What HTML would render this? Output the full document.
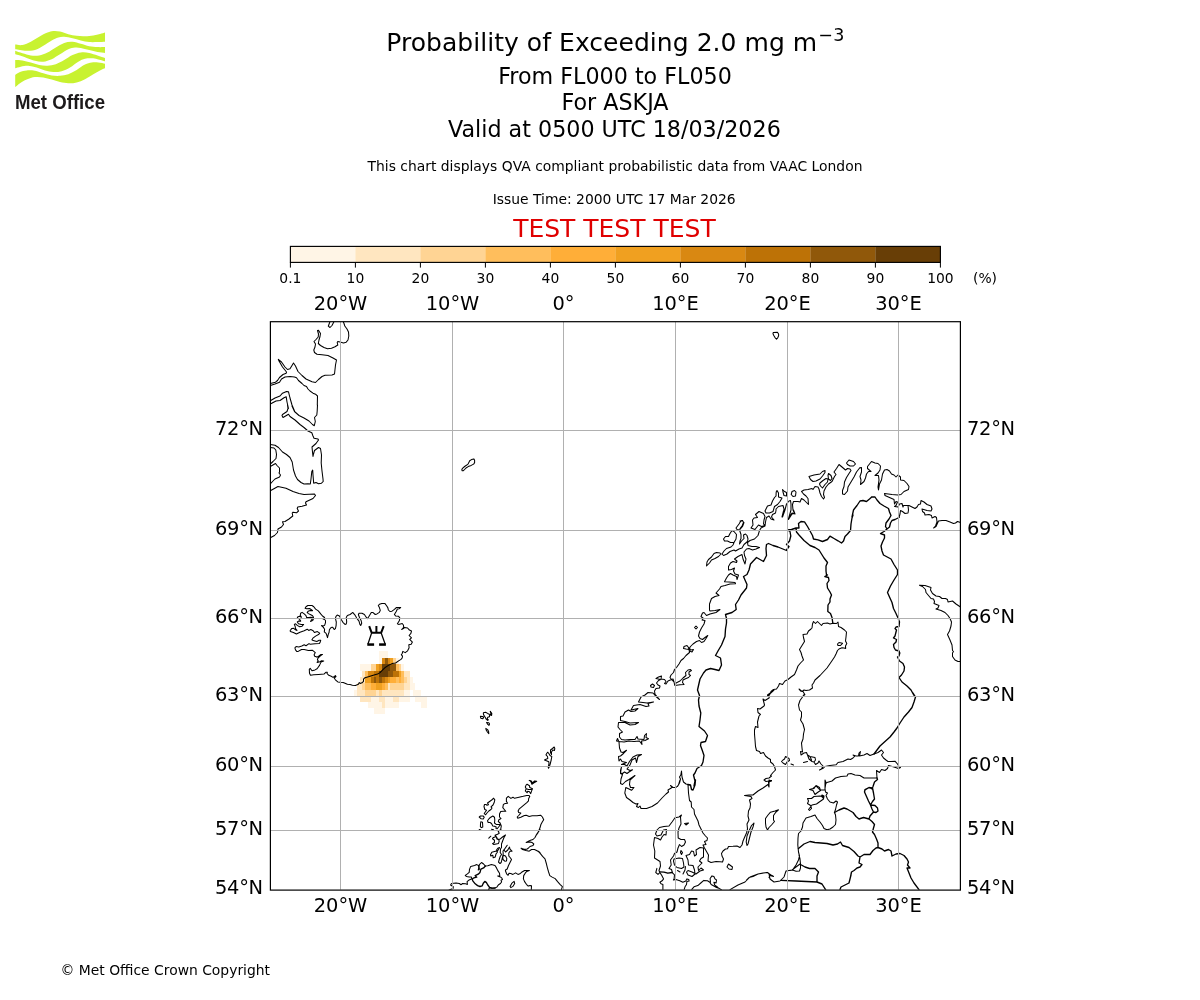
<!DOCTYPE html>
<html><head><meta charset="utf-8"><title>Probability of Exceeding 2.0 mg m-3</title>
<style>
html,body{margin:0;padding:0;background:#fff}
svg{display:block}
text{font-family:"DejaVu Sans","Liberation Sans",sans-serif;fill:#000}
.t10{font-size:13.89px} .t14{font-size:19.44px} .t16{font-size:22.22px} .t18{font-size:25px}
.mid{text-anchor:middle} .end{text-anchor:end}
</style></head><body>
<svg width="1200" height="1000" viewBox="0 0 1200 1000" style="will-change:transform">
<rect width="1200" height="1000" fill="#fff"/>
<!-- LOGO -->
<g id="logo"><path d="M15.2,44.6C16.4,44.7 19.9,45.5 22.5,45.0C25.1,44.5 28.1,43.1 30.8,41.7C33.6,40.3 36.4,38.2 39.2,36.7C41.9,35.1 45.1,33.4 47.5,32.5C49.9,31.6 51.2,31.2 53.3,31.0C55.4,30.8 57.5,31.0 60.0,31.5C62.5,32.0 65.6,33.4 68.3,34.2C71.1,34.9 73.9,35.5 76.7,35.8C79.4,36.2 82.2,36.3 85.0,36.2C87.8,36.2 90.8,35.8 93.3,35.4C95.8,35.0 98.1,34.5 100.0,34.0C101.9,33.5 104.2,32.8 105.0,32.5L105.0,41.7C103.8,41.7 100.1,42.0 97.5,42.1C94.9,42.2 91.9,42.4 89.2,42.1C86.4,41.8 83.6,41.0 80.8,40.4C78.1,39.8 75.3,39.0 72.5,38.3C69.7,37.7 66.5,36.8 64.2,36.7C61.8,36.5 60.4,36.9 58.3,37.5C56.2,38.1 54.2,39.0 51.7,40.4C49.2,41.8 46.1,44.2 43.3,45.8C40.6,47.4 37.8,49.2 35.0,50.0C32.2,50.8 29.2,50.8 26.7,50.8C24.2,50.8 21.9,50.3 20.0,50.0C18.1,49.7 16.0,49.3 15.2,49.2Z M15.2,50.8C16.4,51.2 19.9,52.6 22.5,53.3C25.1,54.1 28.1,55.1 30.8,55.4C33.6,55.8 36.4,55.9 39.2,55.4C41.9,54.9 44.7,53.8 47.5,52.5C50.3,51.2 53.1,49.1 55.8,47.5C58.6,45.9 61.4,43.9 64.2,42.9C66.9,41.9 69.7,41.5 72.5,41.7C75.3,41.8 78.1,43.0 80.8,43.8C83.6,44.5 86.4,45.7 89.2,46.2C91.9,46.8 94.9,46.9 97.5,47.1C100.1,47.2 103.8,47.1 105.0,47.1L105.0,52.9C103.8,52.8 100.1,52.6 97.5,52.1C94.9,51.6 91.9,50.7 89.2,50.0C86.4,49.3 83.2,48.3 80.8,47.9C78.5,47.5 77.1,47.3 75.0,47.5C72.9,47.7 70.8,48.1 68.3,49.2C65.8,50.3 62.8,52.5 60.0,54.2C57.2,55.8 54.4,57.9 51.7,59.2C48.9,60.4 46.1,61.4 43.3,61.7C40.6,61.9 37.8,61.5 35.0,60.8C32.2,60.2 29.4,58.9 26.7,57.9C23.9,56.9 20.3,55.6 18.3,55.0C16.4,54.4 15.7,54.3 15.2,54.2Z M15.2,60.0C16.4,60.1 19.9,60.0 22.5,60.4C25.1,60.8 28.1,61.7 30.8,62.5C33.6,63.3 36.4,64.4 39.2,65.0C41.9,65.6 44.7,66.0 47.5,65.8C50.3,65.7 53.1,65.1 55.8,64.2C58.6,63.2 61.4,61.5 64.2,60.0C66.9,58.5 69.7,56.2 72.5,55.0C75.3,53.8 78.1,52.8 80.8,52.5C83.6,52.2 86.4,52.4 89.2,52.9C91.9,53.4 94.9,54.6 97.5,55.4C100.1,56.2 103.8,57.5 105.0,57.9L105.0,61.2C103.8,60.9 99.7,59.7 97.5,59.2C95.3,58.7 93.8,58.4 91.7,58.3C89.6,58.3 87.2,58.2 85.0,58.8C82.8,59.3 80.8,60.2 78.3,61.7C75.8,63.1 72.8,65.9 70.0,67.5C67.2,69.1 64.4,70.5 61.7,71.2C58.9,72.0 56.1,72.2 53.3,72.1C50.6,71.9 47.8,71.2 45.0,70.4C42.2,69.7 39.4,68.3 36.7,67.5C33.9,66.7 31.0,66.0 28.3,65.8C25.7,65.7 23.0,66.2 20.8,66.7C18.6,67.1 16.1,68.1 15.2,68.3Z M15.2,75.0C16.0,74.5 18.1,72.8 20.0,72.1C21.9,71.3 24.2,70.6 26.7,70.4C29.2,70.2 32.2,70.3 35.0,70.8C37.8,71.3 40.6,72.6 43.3,73.3C46.1,74.1 48.9,75.0 51.7,75.4C54.4,75.8 57.2,76.0 60.0,75.8C62.8,75.6 65.6,75.1 68.3,74.2C71.1,73.2 73.9,71.6 76.7,70.0C79.4,68.4 82.5,65.8 85.0,64.6C87.5,63.3 89.4,62.8 91.7,62.5C93.9,62.2 96.1,62.3 98.3,62.5C100.6,62.7 103.9,63.5 105.0,63.8L105.0,68.3C104.2,68.7 101.9,69.4 100.0,70.4C98.1,71.4 95.8,72.7 93.3,74.2C90.8,75.6 87.8,77.8 85.0,79.2C82.2,80.6 79.4,81.8 76.7,82.5C73.9,83.2 71.1,83.4 68.3,83.3C65.6,83.3 62.8,82.7 60.0,82.1C57.2,81.5 54.4,80.3 51.7,79.6C48.9,78.8 46.1,77.9 43.3,77.5C40.6,77.1 37.8,76.7 35.0,77.1C32.2,77.4 29.2,78.5 26.7,79.6C24.2,80.6 21.9,82.1 20.0,83.3C18.1,84.6 16.0,86.5 15.2,87.1Z" fill="#C8F230"/>
<text x="15" y="108.9" textLength="90" lengthAdjust="spacingAndGlyphs" style="font-family:'Liberation Sans',sans-serif;font-weight:bold;font-size:20.4px;fill:#1d1a1b">Met Office</text></g>
<!-- titles -->
<text x="386.2" y="51" class="t18" textLength="431" lengthAdjust="spacing">Probability of Exceeding 2.0 mg m</text><text x="818.3" y="40.8" font-size="17.5px">−</text><text x="833.2" y="40.8" font-size="17.5px">3</text>
<text x="615" y="83.8" class="t16 mid">From FL000 to FL050</text>
<text x="615" y="110" class="t16 mid">For ASKJA</text>
<text x="614.4" y="136.7" class="t16 mid">Valid at 0500 UTC 18/03/2026</text>
<text x="615" y="171" class="t10 mid">This chart displays QVA compliant probabilistic data from VAAC London</text>
<text x="614.2" y="204.2" class="t10 mid">Issue Time: 2000 UTC 17 Mar 2026</text>
<text x="614.4" y="236.6" class="t18 mid" style="fill:#e00000">TEST TEST TEST</text>
<!-- colorbar -->
<rect x="290.4" y="246.4" width="65.2" height="15.999999999999972" fill="#FFF5E6"/><rect x="355.4" y="246.4" width="65.2" height="15.999999999999972" fill="#FFE6C0"/><rect x="420.4" y="246.4" width="65.2" height="15.999999999999972" fill="#FFD494"/><rect x="485.4" y="246.4" width="65.2" height="15.999999999999972" fill="#FFBE5C"/><rect x="550.4" y="246.4" width="65.2" height="15.999999999999972" fill="#FFAE38"/><rect x="615.4" y="246.4" width="65.2" height="15.999999999999972" fill="#F0A020"/><rect x="680.4" y="246.4" width="65.2" height="15.999999999999972" fill="#D98812"/><rect x="745.4" y="246.4" width="65.2" height="15.999999999999972" fill="#BD7206"/><rect x="810.4" y="246.4" width="65.2" height="15.999999999999972" fill="#90580A"/><rect x="875.4" y="246.4" width="65.2" height="15.999999999999972" fill="#683E06"/>
<rect x="290.4" y="246.4" width="650.0" height="15.999999999999972" fill="none" stroke="#000" stroke-width="1.15"/>
<path d="M290.4,262.4v5.2M355.4,262.4v5.2M420.4,262.4v5.2M485.4,262.4v5.2M550.4,262.4v5.2M615.4,262.4v5.2M680.4,262.4v5.2M745.4,262.4v5.2M810.4,262.4v5.2M875.4,262.4v5.2M940.4,262.4v5.2" stroke="#000" stroke-width="1" fill="none"/>
<!-- map -->
<clipPath id="clip"><rect x="270.4" y="321.7" width="690.0" height="568.0999999999999"/></clipPath>
<g clip-path="url(#clip)">
<g shape-rendering="crispEdges">
<rect x="379" y="651" width="9" height="7" fill="#FFF5E6"/>
<rect x="379" y="658" width="3" height="6" fill="#FFF5E6"/>
<rect x="382" y="658" width="3" height="6" fill="#D98812"/>
<rect x="385" y="658" width="3" height="6" fill="#90580A"/>
<rect x="388" y="658" width="2" height="6" fill="#D98812"/>
<rect x="390" y="658" width="3" height="6" fill="#F0A020"/>
<rect x="393" y="658" width="3" height="6" fill="#FFD494"/>
<rect x="396" y="658" width="3" height="6" fill="#FFF5E6"/>
<rect x="360" y="664" width="11" height="7" fill="#FFF5E6"/>
<rect x="371" y="664" width="5" height="7" fill="#FFD494"/>
<rect x="376" y="664" width="3" height="7" fill="#F0A020"/>
<rect x="379" y="664" width="3" height="7" fill="#D98812"/>
<rect x="382" y="664" width="8" height="7" fill="#683E06"/>
<rect x="390" y="664" width="6" height="7" fill="#90580A"/>
<rect x="396" y="664" width="3" height="7" fill="#FFBE5C"/>
<rect x="399" y="664" width="2" height="7" fill="#FFD494"/>
<rect x="401" y="664" width="3" height="7" fill="#FFF5E6"/>
<rect x="362" y="671" width="3" height="6" fill="#FFE6C0"/>
<rect x="365" y="671" width="3" height="6" fill="#FFBE5C"/>
<rect x="368" y="671" width="6" height="6" fill="#D98812"/>
<rect x="374" y="671" width="5" height="6" fill="#BD7206"/>
<rect x="379" y="671" width="9" height="6" fill="#683E06"/>
<rect x="388" y="671" width="5" height="6" fill="#90580A"/>
<rect x="393" y="671" width="6" height="6" fill="#BD7206"/>
<rect x="399" y="671" width="2" height="6" fill="#F0A020"/>
<rect x="401" y="671" width="3" height="6" fill="#FFBE5C"/>
<rect x="404" y="671" width="6" height="6" fill="#FFE6C0"/>
<rect x="360" y="677" width="5" height="6" fill="#FFE6C0"/>
<rect x="365" y="677" width="6" height="6" fill="#F0A020"/>
<rect x="371" y="677" width="3" height="6" fill="#BD7206"/>
<rect x="374" y="677" width="2" height="6" fill="#90580A"/>
<rect x="376" y="677" width="3" height="6" fill="#BD7206"/>
<rect x="379" y="677" width="3" height="6" fill="#90580A"/>
<rect x="382" y="677" width="3" height="6" fill="#BD7206"/>
<rect x="385" y="677" width="3" height="6" fill="#D98812"/>
<rect x="388" y="677" width="2" height="6" fill="#F0A020"/>
<rect x="390" y="677" width="6" height="6" fill="#FFAE38"/>
<rect x="396" y="677" width="3" height="6" fill="#FFBE5C"/>
<rect x="399" y="677" width="2" height="6" fill="#FFAE38"/>
<rect x="401" y="677" width="3" height="6" fill="#FFBE5C"/>
<rect x="404" y="677" width="3" height="6" fill="#FFD494"/>
<rect x="407" y="677" width="3" height="6" fill="#FFE6C0"/>
<rect x="410" y="677" width="3" height="6" fill="#FFF5E6"/>
<rect x="357" y="683" width="5" height="7" fill="#FFE6C0"/>
<rect x="362" y="683" width="3" height="7" fill="#FFD494"/>
<rect x="365" y="683" width="6" height="7" fill="#FFBE5C"/>
<rect x="371" y="683" width="5" height="7" fill="#FFAE38"/>
<rect x="376" y="683" width="6" height="7" fill="#F0A020"/>
<rect x="382" y="683" width="3" height="7" fill="#FFAE38"/>
<rect x="385" y="683" width="3" height="7" fill="#FFBE5C"/>
<rect x="388" y="683" width="2" height="7" fill="#FFE6C0"/>
<rect x="390" y="683" width="14" height="7" fill="#FFD494"/>
<rect x="404" y="683" width="6" height="7" fill="#FFE6C0"/>
<rect x="410" y="683" width="5" height="7" fill="#FFF5E6"/>
<rect x="354" y="690" width="3" height="6" fill="#FFF5E6"/>
<rect x="357" y="690" width="8" height="6" fill="#FFE6C0"/>
<rect x="365" y="690" width="11" height="6" fill="#FFD494"/>
<rect x="376" y="690" width="3" height="6" fill="#FFE6C0"/>
<rect x="379" y="690" width="3" height="6" fill="#FFD494"/>
<rect x="382" y="690" width="22" height="6" fill="#FFE6C0"/>
<rect x="404" y="690" width="6" height="6" fill="#FFF5E6"/>
<rect x="413" y="690" width="8" height="6" fill="#FFF5E6"/>
<rect x="360" y="696" width="11" height="6" fill="#FFE6C0"/>
<rect x="371" y="696" width="8" height="6" fill="#FFF5E6"/>
<rect x="379" y="696" width="6" height="6" fill="#FFE6C0"/>
<rect x="385" y="696" width="8" height="6" fill="#FFF5E6"/>
<rect x="393" y="696" width="6" height="6" fill="#FFE6C0"/>
<rect x="399" y="696" width="11" height="6" fill="#FFF5E6"/>
<rect x="415" y="696" width="12" height="6" fill="#FFF5E6"/>
<rect x="368" y="702" width="14" height="6" fill="#FFF5E6"/>
<rect x="382" y="702" width="3" height="6" fill="#FFE6C0"/>
<rect x="385" y="702" width="14" height="6" fill="#FFF5E6"/>
<rect x="421" y="702" width="6" height="6" fill="#FFF5E6"/>
<rect x="374" y="708" width="11" height="6" fill="#FFF5E6"/>
</g>
<path d="M343.2,321.5 344,323.5 344.8,326 347,329 348.5,332 348.8,336 348,340 346.2,342.2 343.5,343 340,342 337.8,341.5 337.2,342.5 337.8,345 335,346.8 331.5,348.2 327.5,348.8 324,347.5 320.5,345.5 318.3,343.5 319,340 320,336.5 320.5,333.5 318.5,330.2 317.5,330.5 318.5,334 318.2,337 316,339.5 314,341.5 315.5,344 315,347 313.8,350 314.5,352.5 317,354.3 322,354.8 328,355.5 333,358 336.5,360 335.5,365 334.5,374 332,375 325,375.3 322,376.5 318.5,379.5 315.5,382.5 312,381.8 306,379 302,375.5 298,371.5 295.5,366 293.5,363 292,365.5 290,368.8 287.5,369.5 285,367 281.5,362 278.3,359.3 279,361 282.5,367 286.5,372 286.2,373.2 283,374.5 279.5,377.5 277.5,380.5 275.5,382.2 270.3,383.5 M330,321.5 328.3,326.2 330,327.5 332,325.5 333.8,322 M270.3,385.5 275,384 279.5,382.2 281.5,379 285,377 290,376.5 294.5,377 296.5,377.8 298.5,380.5 302,383.5 304,385.5 306.5,386.5 308,389 310,391 313,393.2 315.5,394.2 317.5,396 317.3,405 317.5,405 317.2,411 316.8,415 314.5,417.5 315.3,421.5 314.3,425.7 312.5,424.5 309,421 304,418 299,415.5 294.5,411.5 292,406 294.5,411 292,405 290,398 288.5,391.8 286.5,391.5 282.5,393.2 280,396 275,398 270.3,400.8 M270.3,404 276,401 280,400.5 284,397.8 286.2,396.8 287,402 288.5,408.5 287.5,405 288,408.5 287,411.5 282.5,414.5 282,415.5 283,417.5 288.5,414.2 290,416.5 295,420 300,424.5 304,427.5 308,431 311.8,432.8 313,436 314,438.3 318,439 318.5,440 316,443.5 312,447 312.5,452 313,456.5 313.5,454 314.5,450.5 318.5,447.5 320.5,448.5 321.5,455 321.2,463 322,471 323,479 323.2,481.5 321.5,483.2 318.5,483.7 316,482.5 313.7,483.2 313,475 312.7,470 311.8,471.5 311,479 310.3,484 308,483.7 304,484 301,482.5 297.5,479.5 295.5,476 293.5,470 292.2,462 290,457.5 286.5,454.5 282.5,452 278.5,447.5 275,445.2 270.3,444.5 M270.3,447.5 274,448 275.8,450 276.5,454.5 276,458.5 273,461.5 270.3,464 M270.3,466.5 275.5,463.5 277,465.5 279.5,468 279.5,472 279,473 280.5,475 279.5,477 275,479 272.5,481.5 270.3,484 M270.3,490.8 278,486.5 286,488.2 293,491.5 299,493.5 304,494.5 314.5,494 315.5,495.5 315.5,495.5 313,498.5 306,501.8 305.5,503 306.5,505 302,506.2 297.8,507 297.2,508.5 298.5,511 296.5,512.8 293,512.2 292.2,513 292.8,516 289,519 285,521.5 282.5,521.8 283.5,524.5 281.5,527 278,529 277.5,532.5 274.5,535.5 270.3,537.8 M352.7,612.4 354.8,614.8 356.7,618.1 359,621.1 359.9,624.4 360.7,625.5 361.7,623.2 361.1,620.5 359.6,617.8 358.4,614.8 359,613.3 362,613.3 364.4,614.5 366.2,617.2 367.5,618.7 369.5,615.4 371.3,612.4 372.8,612.4 375.2,614.5 377,613.9 379.4,612.4 380.3,610.3 379.4,607.6 378.3,605.5 379.4,604.3 381.8,603.4 384.8,603.4 386.6,605.8 387.8,607.6 388.4,610 389.9,611.5 392,611.2 394.4,609.4 396.5,607.5 400.7,607.5 399.2,608.7 397.4,609.1 396.2,611.5 394.4,614.5 395.6,615.9 398.6,616.3 399.8,617.8 399.3,620.8 397.4,623.8 398.6,624.4 402.2,623.5 403.4,625 403.7,627.4 401.6,629.5 403.4,628.6 404.6,627.4 407.6,628 409.4,630.1 411.5,631 410.9,633.4 409.1,635.5 411.5,637.9 409.7,639.4 412.4,642.1 411.2,644.2 408.8,644.8 409.1,647.8 407.6,650.8 405.2,652.6 402.8,651.4 402.2,653.5 401.3,654.7 402.5,656.2 402.2,658 402.2,658 401,659.4 398.6,660.9 395.6,663 392,663.6 388.4,665.4 384.8,667.8 382.4,670.2 380,672.6 377.6,674.1 374,675 369.2,676.5 365,677.7 363.5,679.2 363.5,681.3 362,682.8 360.2,683.4 359.3,682.5 358.4,684.3 355.4,685.5 352.4,685.2 350,684.6 347.4,684.3 343.2,682.5 340.2,682.2 337.8,681.9 335.4,679.8 334.2,678 336,676.5 335.4,675.6 333,677.4 331.2,676.2 328.8,675.3 327,673.5 327.3,672.3 325.8,672.3 324,674.1 318.6,674.4 313.8,674.7 310.5,675.3 309.5,673.2 309.3,669.3 310.2,668.4 312,670.8 315,669.9 317.1,668.7 319.5,665.4 321,662.1 323.7,660.9 321.6,660.7 319.2,662.1 317.1,662.4 318.3,660.9 317.4,660 318,658 318,658 320.4,655.9 322.5,654.4 321,654.4 318.6,656.2 316.8,657.1 314.7,656.2 314.1,654.7 315.3,652.6 313.8,651.4 312.3,650.2 308.4,650.5 304.2,649.5 301.5,649.5 298.2,651.4 296.7,651.4 295.5,649.9 294.9,647.8 296.1,646.5 298.8,646.9 301.8,646 304.2,644.8 306,645.7 309,643.6 310.2,644.2 315,643.7 319.2,643.6 320.1,642.4 320.7,640.3 319.2,640.3 316.8,641.5 313.2,640.6 311.9,639.7 312.9,638.2 315.6,636.1 318.9,634.3 319.7,633.1 317.4,631.6 314.4,632.5 313.2,630.7 310.8,629.5 308.7,630.4 307.2,629.2 304.2,630.7 300,632.2 296.4,634 293.4,632.5 290.4,631.6 290.1,630.7 291.6,628.6 293.7,628.3 295.5,629.8 297,630.4 295.5,628.6 295.2,626.5 294.3,624.4 295.5,623.8 297.6,625.6 299.7,626.8 302.1,626.2 303.6,624.4 301.2,624.4 298.5,623.8 297.3,622 298.5,621.1 300.7,621.1 299.4,619 297.3,618.1 297.6,616.9 299.4,616.3 301.5,617.2 300.3,615.4 300.6,613.3 302.1,612.4 304.2,613.9 306,615.7 306.6,617.5 309,617.5 310.8,617.2 312.3,617.5 312.9,618.7 311.4,619.9 310.5,621.4 312,620.8 313.2,619.9 313.5,617.2 312.6,615.7 310.8,614.8 308.4,613.6 307.2,612.4 308.1,611.3 310.2,610.6 312.6,610.6 311.4,609.7 309.6,608.5 306.6,608.8 305.1,608.2 306,606.7 307.8,605.5 312,605.5 313.8,606.7 315.6,609.1 318.3,610.9 320.7,613.9 322.5,616 324.6,617.5 323.1,619 324.6,619.5 325.5,620.5 325.5,622.6 324.6,625.3 323.4,625.9 321.5,625.6 323.4,627.4 324.6,629.2 324.3,631.9 326.1,633.4 326.7,635.2 327.5,637.6 328.2,634.6 329.1,632.2 329.4,629.8 330.6,628 332.1,627.1 333.3,628 334.2,629.5 335.4,628.6 336.1,625.6 336.3,622 335.4,618.4 336,616.3 337.2,615.1 339,615.7 340.2,617.2 341.1,619.3 342.9,622.3 345,624.4 346.2,624.1 346.7,622 346.3,617.2 347.4,615.4 350.1,614.5 352.8,612.4Z M473.9,458.9 474.6,460.2 474.6,462.6 473.6,464.1 471.2,465.4 468.2,466.6 466.4,467.7 464.6,469.5 463.4,470.7 462.2,470.7 461.8,469.8 462.5,468.3 464.6,466.5 466.4,465.3 468.2,463.8 469.1,462 469.7,460.8 471.5,459.6Z M773.2,332.5 777.4,332.2 778.6,334 778.6,335.8 777.7,337.9 776.5,339.2 775,337.6 773.8,335.5 773,333.7Z M483.4,712.8 485.6,712.2 487.6,713.4 489.8,714.4 489.4,716.8 487.8,717.2 487.2,718.8 488.4,719.8 487.6,720.4 486.2,719.2 485.2,717.2 484,715.6 483.4,714Z M490.2,711.2 491.8,713.4 491.6,715.4 490.6,715 490.8,713.2Z M480.4,716.2 482.8,716.4 483.6,717.6 482.8,718.8 480.8,718.2Z M486.6,722.4 488.8,722.8 489.6,724 489,725.4 487.8,724.4Z M485.8,728.4 487.6,729.6 488.6,731.6 488.8,733.6 487.4,732 486.2,730Z M547.8,752.2 549,753.8 550,755.5 551.8,756.5 551.2,760 550.2,764 549.2,767 548.5,768.2 548.2,767 549,763.5 548.8,761.8 547,761 544.5,760 546,759.2 547.8,758.5 547.5,756.5 546,754.8 547,753Z M550.5,750 552.5,748.5 554.2,747 554.8,748.5 554.5,750.5 552.8,750 551.5,752 551.5,754.5 550.5,752.5Z M531.3,889.7 531.5,885.8 530,885.5 528.2,886.1 526.4,884.3 524.6,881.6 523.4,878.9 523.7,875.6 525.2,873.2 526.7,871.4 529.4,870.5 524.6,870.5 521.6,872.3 519.8,873.8 518,874.4 515.6,872.9 512.9,874.4 510.8,873.5 509,873.2 508.1,875.3 506.6,873.8 505.4,870.8 506,869.6 505.8,869.8 507.2,869 508.5,865.5 510,862.5 511.5,859.5 510.5,858 508.8,856 508.8,853 510,851.2 512,851.2 510,849.2 509.5,847 507.8,850 505.5,852 504,850 506,847 507.2,845.2 504.5,849.2 503,851 503.2,854 502.5,857 501.8,860 501.2,862.5 500,863.5 498.5,862.2 499.2,859.5 500.2,856.5 501.5,854.5 500.2,852.5 500.5,849 501.5,847.5 501.5,844 502.8,840.5 504,837.5 505.5,835 502.5,837 500,839.2 497.5,839 496.5,837 495,835.2 497.5,834.2 499.2,833.2 498.2,831.2 501,829.5 500.7,829.3 501.3,826 500.1,823 498.3,821.5 498.9,819.7 501,818.5 499.5,817 499.5,814 500.7,811.6 503.4,811.3 505.8,811.3 504.3,809.5 502.8,807.7 503.4,804.4 505.2,803.5 507.6,803.2 506.4,801.4 506.4,798.1 508.2,796.3 510.9,798.4 513,797.2 514.5,798.3 519,797.2 523.2,796.3 526.8,795.4 528.9,795.4 529.8,796.3 528.6,798.7 528.5,800.8 526.8,802.6 523.2,805.6 519,809.2 518.1,811 518.7,812.5 520.8,813.1 518.7,815.5 517.2,817 517.8,818.2 520.8,817.3 524.4,815.5 526.2,815.2 529.2,816.4 532.2,815.8 537,815.8 540.6,815.2 542.4,817 543.7,819.7 542.4,821.8 540.9,824.5 540,827.8 538.8,830.8 537.9,832.9 536.4,835 540,829.5 538.5,831.5 536.5,834.5 535,837.5 533,839.5 530.5,840.2 528.5,841.2 526.2,842.5 528,842.2 530.5,842 532.5,842.8 533.8,844 533,845.5 530,846.5 528.5,848 527,849.2 524,849.2 521,848.2 522.5,849.5 526,850.5 529.2,851.2 531.5,849.5 534.5,849.5 537.5,851 540,852.5 537.8,851 540.2,853.4 542.6,856.4 545,858.8 546.2,863 547.4,867.8 548.6,872 549.8,875.6 552.2,877.1 555.2,878.6 557.6,881.6 560,884.3 562.4,886.7 561.5,889.4 M527.1,784.3 529.5,785.8 529.8,787.6 532.5,788.8 531.6,790.9 530.7,793.6 529.5,791.8 527.7,791.2 527.1,792.7 525.3,790.9 526.2,788.8 525.3,787 526.2,784.9Z M526.2,788.8 528.6,789.4 531.6,789.4 M529.2,780.4 531,781.9 531.9,784.3 534,782.8 536.7,781.3 534.6,781 532.5,782.8 531,780.7Z M493.5,798.2 494.8,799.8 494.2,802.5 493,805 491,806.8 492,808 491,809.5 488.8,811 487,813 485.5,814.8 484.2,813.5 486,811 486.5,810.2 484.8,809.5 484,806.5 484.5,804.5 486,804.5 487,805.2 488.5,804.8 487.5,803 490,801.2 492,799.8Z M479.2,817 480.5,816 483,815.9 484.2,817.2 483.2,819 481.2,818.8Z M480.8,821.8 482.5,822.2 482.8,827 481.5,827.6 480.4,826.8 480.5,824Z M479.2,829.5 480.8,829.9 M491.5,829.2 493.5,829.8 M492.8,816 494.5,817.2 494.8,820 494.5,823 496.2,824.4 500.5,824.2 499,826.5 497.2,828.8 496,828.5 496.2,827 494.5,826.2 492.8,826 491.5,823.5 490,822.5 488.2,822.5 487.5,820.8 489.2,818.5 490.8,817.2Z M496,836.5 493,837.8 492.5,838.8 494.5,840.2 494.4,842.5 492.5,843.6 493.8,844.5 498.5,843.4 499.2,841.2 498.8,839.8 497,839Z M490.8,836.2 488.8,838.2 M499.5,847.5 497.8,848.2 496.5,850 497.5,851 498.8,849Z M496.5,851 494.5,851.5 491.8,852.2 490.5,854.8 490.8,856 492.8,855.2 493.2,857.8 495.2,857 496,854 497.5,852Z M503.5,855.2 505.5,856 506.8,858.5 506.5,861 504.8,861.2 503,859.5 502.8,857Z M514.1,881.3 514.7,883.4 512.9,886.4 510.8,887.6 510.1,886.4 511.7,883.4Z M449.1,890 453,888.6 453.3,886.8 450.6,885 451.5,883.5 456,882.9 459.3,883.5 461.1,884.7 462.6,883.5 465.6,883.8 467.4,884.4 467.1,881.7 469.2,879.9 471.9,878.7 471.3,876.9 469.2,876.9 466.5,876.6 465.3,875.4 467.4,873.9 469.2,872.4 469.5,869.4 470.7,866.4 474.6,865.5 476.7,864.6 478.5,865.5 478.7,867.9 478.2,870 479.4,869.4 479.1,866.7 479.4,864.6 481.5,862.5 483.6,864 485.4,866.1 487.8,865.8 491.4,864.6 495,865.5 496.5,867.9 498,870.9 499.5,873.3 499.8,875.7 497.7,876 500.4,876.9 501.9,878.1 502.5,879.6 501,880.2 501.6,882 500.4,883.5 498.3,885 496.8,887.1 495,888 492,888.3 489.3,887.7 488.7,890 M899,517.5 900,514 900.5,510.5 902.5,511.5 905,513.5 908,513 908.5,510 908,505.5 903.5,505.5 903,507 902,503.5 899.5,504 898,507 894.5,506.5 896,505.5 897.5,502 896,501.5 894.5,504 894,499.5 889.5,497.5 885,495.5 884.5,493.5 892,494.5 898,495 901,494.5 904,491.5 908.5,489.5 909,486.5 907,483.5 904,480.5 900.5,480 900.5,477 898,475 896,477 894,475 891.5,474 889.5,471 887,469.5 884.5,470 882.5,474 881.5,480 879.5,484 878.5,490 878,487 879,480 878.5,475.5 875,475.5 878,473 880,470 880.5,466 878,463.5 875,463 871.5,461.5 867.5,466.5 867.5,468.5 871,471.5 868.5,471.5 866.5,474 865.5,478 864,481.5 860.5,484.5 861,480 860,476.5 861.5,472 861.5,467.5 860,468 860,467.5 856.5,472 854,477 851,482 848,487 847.5,491 844.5,494.5 842.5,494 842.5,490.5 844,486.5 844.5,482 846.5,477.5 849,473.5 851,470.5 850,469 847.5,468.5 845.5,470 842,467 839,464.5 836.5,468.5 834,472 836,474.5 834.5,476.5 833.5,478.5 832,481.5 828.5,484 826,487 824,491 823.5,494.5 824.5,497.5 823.5,499 821.5,496.5 820,493 819,489 818,487 815,486.5 813,489.5 812,488.5 808,489.5 804,490 801.5,491.5 803.5,494 806,496 808,498.5 808.5,504.5 806.5,502.5 804,500 801.5,498.5 800,502 798,501.5 793.5,501.5 792.5,504.5 793,510 794.5,513.5 792,514 788.5,519.5 789,517 791,510 791,504 790.5,500.5 789,501 786.5,504 785,510 782.5,517 783,514 784,509 783,505.5 778.5,506.5 776,509 776,510.5 775.5,513 772.5,514.5 771.5,517 774,520 771,519 769,516 766.5,517.5 765.5,522 765,526 761,528 759.5,530.5 758,535.5 754.5,539 750,540.5 747.5,542.5 748,545.5 752,546.5 756,546.5 759.5,547.5 756,549 752.5,550 749,548.5 746.5,549 744,552 744.5,555.5 746,559 745,564 743,559 742,554.5 738,556.5 734.5,559 737,561 736.5,562.5 733,561.5 730.5,563 728.5,566.5 728.5,570 731.5,569.5 734.5,568 733.5,571 735,574 738.5,575 737,579.5 736.5,576.5 733,575 730.5,573.5 728.5,575 726.5,578 724.5,581.8 729,582 735,582.5 735.5,583.8 730,584 725,585.5 721,586.5 719.5,589 716,593 719,595.5 715,596.5 711.5,598.5 709.5,604 709.5,610 710,611 715,610.5 720,609.5 716,612.5 710,614 706.5,615.5 704,612.5 702.5,613 701,616.5 703.5,618.5 702,620 705,620.5 704,624 701.5,628 699.5,632 698.5,636 700,638.5 702.5,639.5 705,637.5 707.8,635.5 706,638.5 704,641.5 701.5,642.5 699.5,640.5 696.5,641.5 693,644 690.5,646.5 689.5,648 690.5,650 693.5,649.5 692,652 689.5,651 688.5,647.5 687,645.5 684,646.5 683.5,648.5 686,649 689,649.5 689.5,652.5 686,655.5 683.5,658.5 681,660.5 679,664 676.5,667.5 674.5,669.5 673.5,672.5 671,675 670,677.5 671.5,679.5 673,679 674,682 674.8,685.5 676,683 680,681 683,678 686,675.5 685.5,672.5 688,670 690.5,669.5 691.5,670.5 689,672 689,674.5 690.5,675.5 688.5,677.5 685,679 683,680 682.5,682.5 684,684.5 680,684.8 674.8,685.5 674,682 671.5,679.5 668,681 666,684 664.5,683.5 666,681.5 664.5,679.5 661,679 661.5,676 658.5,677 656,678.5 660.5,679.5 658.5,680.5 656.5,683 658,685 660,686 659.5,688 656,688.5 654.5,691 655,694 654.5,693.5 657,696.5 659.5,699.5 656,696.5 653,693 648,692.5 645,695 641,697 638.5,702 643,702.5 647,703 653.5,702 648,703.5 649,706 646,706.5 640,704.5 633.5,705.5 631,710 638,708.5 635,711 631,711.5 628.5,710 625,712 623,716 620.5,716.5 620.5,720.5 625,721.5 630,723 638.5,722.5 635,724.5 630,725 625,722.5 618.5,722.5 618,727 620,729.5 622.5,732 619.5,733.5 619.5,737 621.5,739.5 625,740 630,739.5 635,739.5 637,736.5 638,739 644,739.5 644.5,735.5 646.5,733.5 646,737.5 648.5,738.8 645,740.5 641.5,741 642,744.5 639.5,741 634,741.5 629,741 624,742 619.5,741.5 616.5,741 617.5,738.5 619,742 619.5,748 621,752 623,752.5 626.5,750.3 623.5,753.5 620.5,756 618.5,756.5 619,761 620.5,759 622,761.5 626.5,762.5 621.5,764.5 624.5,764.5 627,766 629.5,761.5 633,757 637,755 641.5,754.5 638,756.5 636.5,762.5 635.5,758 632,760 630,765 627,769 630,770.5 632.5,769.8 629,772 627,773.5 624.5,772 622.5,773.5 620.5,773 621.5,767 620.5,770.5 620.5,773.5 622.5,774.5 621,779 620.5,783.5 622.5,784.5 625.5,781.5 629,779.5 635,775.5 630,780 629.5,784.5 629.5,784.5 630.5,787.5 634,787.5 631.5,790.3 629,789 625.8,787.5 624.8,793 626.5,797.5 630,800 633,802.5 636,804 638,803.5 636.5,806.5 638.5,807.5 640,806 641,808.5 646.5,808.5 652,806.5 657.5,803 662,798 666,794 668.5,792 668,790 672,787.5 670.5,785.5 673,787.5 676,787.5 678.5,785 680,780 M677.5,786.5 679.5,783 680.5,779 679.5,777 680.8,775 681.5,771 682,777 683.5,782 686,784 690,785 M688,784.5 688.5,793 689.5,800.5 691.2,802 691.5,807 694,809.5 694.5,814 696.5,818 698,821 699,825 701,829 703,833 705.5,836 707.5,838 707,840.5 704.5,841.5 706,844.5 703,845 704.5,848 706.5,851.5 708.5,855 708,861 711,862.5 716,861.5 720,861.8 722.5,862 723.5,859 722,856 721.5,853.5 723,851 725.5,849 727.5,848.8 728.5,846.5 733,846.3 737,846 740,847.5 742,845 743,841 744.5,837.5 746.5,833 747.5,829 747,824 749,820 748,816 748.5,811 750,808 750.5,804 749.5,800 752,798.5 751,796.5 744.5,795.5 749,795 753,795 758,791 763,788 768,784.5 769,787 768.5,782 771.5,781 769,780 769,787 768.5,782.5 771.5,780.5 769,781 766,781.5 764,780 766,778.5 769,778 771.5,776 770.5,775.5 773,772.5 775.5,770 774.5,766.5 773,764 770.5,762 770.5,759.5 768,758 765.5,756 763.5,752.5 760.5,753.5 759.5,751.5 756.5,750.5 755.5,746.5 755,740 754.5,734 754.5,730 755.5,726.5 758,727.5 757.5,722 759,716 760.5,714.5 758,712.5 757.5,708.5 760,709 764,706 764.5,705 763,699 765,700.5 769,698 769.5,696 767.5,695 771,692.5 774,690 767.5,696 770,694 771,691.5 773.5,689.5 776.5,689 778.5,686 779.5,683.5 782.5,684.5 785,681 788,679.5 791,677 794.5,674.5 796.5,670 798,666 800.5,663 803.5,660 803.5,660 802,656 801,652.5 799.5,649.5 802,645.5 804.5,641.5 803.5,637.5 803,634.5 807,634 808.5,631 811,629 812,628 812.5,624 813.5,621.5 815.5,623.5 817.5,621.5 819.5,623.5 821.5,625.5 823,623.5 827.5,623 830,624 832.8,623.2 836.5,623.5 838,622 838.5,626.5 841,627.5 844.5,630 846.5,632 846,637 845.5,641 846.8,643.5 845.5,646 845.7,648.5 844,648 842,647.8 839,649 837.5,650.5 836,654 834.5,657 832.5,660 827,668 820,675.5 815,680 813.5,683 812,685 812.5,688 809.5,690 806,690.5 804,690 802,691.5 799,689 800.5,691 803,691.5 804.5,694 803,696 805,694.5 802.5,697 800,700.5 798.5,705 799.5,710 801.5,712 801.5,716.5 800.5,720 803,724 804.5,729.5 803.5,734 803,739 801.5,743 802,748 802.5,752 800.5,751.5 801,755 802.5,754 804,753 806.5,752.5 807.5,755 810,756.5 815,757.5 815.5,760 814,762 815.5,764.5 818,763 818,763 819,761 821,764 823,766 821.5,769 819.5,770 823.5,768 825,766.5 830,765.5 836,764.8 838,762.5 843,761.5 848,759 850.5,759.5 853,758 854.5,756.5 853,755 856,756 858.5,756 859,753 860.5,751.5 859.5,756 864,755 867,753.5 870,755.5 874,754 878,752.5 881.5,750 883.5,752.5 881.5,755 883.5,758 886,760 888,761.5 891,761.5 895,761.2 897.5,764 899,766.5 900.5,767.5 898.5,768.5 894,767 888.5,765.5 887.5,768.5 885,770.5 881.5,769.5 879.5,772.5 876.5,770.5 877,778 870,778 864,778 860,775.5 855,775 851,773.5 848,774 847,776 841,776.5 835.5,778 832,781 827,782.5 825,784.5 825,790 M809.5,789.5 813,788.5 816,786 820,790 825,790 825,780 826,782.5 825,788.5 825.5,792 827.5,793 826,795.5 827.5,799 830,802 833.5,803 836,801 837.5,802 836.5,805 835.5,809.5 834.5,812.5 835.5,815 836,820 835.5,824.5 833,827 830,829 827,829.8 824,828.5 822.5,825.5 820,822 817,818.5 815,815 811,816.5 806,818 803,823 802.5,827 801,831 798.5,833.5 798,838 797.8,845 798.5,852 799.5,856 798.5,860 796,865 792.5,870 790,870.5 M792.5,870 796,871.2 799.5,871 800.5,868 800.5,864 800,859 799,855 M746.5,880 749,877.5 753,876.5 758,874 763,873 767.5,872.5 770,874.5 773.5,876.5 770,875.5 769,877.5 771.5,880 M730,889.6 738,885 745,882 750,877 758,874 767,872.4 771,875 773,876 769,874 770,879 774,882 780,881 784,877 786,871 792,870 800,864 M903.5,505.5 909,505.5 912,507 915,508.5 917,507 918.5,504.5 920.5,504 921,500.5 924,502 927,504.5 931,506 932,509 931,511 927,510.5 922,509 922.5,511.5 924.5,513 925,515 929,514.5 931.5,515.5 932,518 935,516.5 936.5,517.5 937,522 935.5,526 933.5,528 936,526.5 938.5,521 942,520.5 946,520.5 950,522 953.5,523.5 955.5,523 957.5,521.5 960.5,522.5 M960.5,607 956,604 952.5,601 948,602 947.5,599.5 945.5,598.5 942,598.5 939.5,596.5 936,596 932.5,593.5 930.5,590 931,587.5 925,585.5 919.5,585.3 922.5,586.5 925.5,589.5 926,592.5 928.5,595.5 931,598.5 933.5,599 934.5,601.5 934,603.5 939,605.5 938,608 936,609 941,610.5 945,612.5 948,615.5 950,618.5 951.5,622 951,626 949.5,631 947.5,634.5 950,640 952,645 952.5,650.5 953.5,651.5 952.5,653 952.5,656.5 955,660 958,661.5 960.5,661.5 M759,511.5 763.5,513.5 765,516.5 764,520 763.5,524 765,525.5 761.5,526.5 758.5,525 756.5,527.5 755,529.5 751,528 753,525 752.5,520 754,518 757.5,517.5 755.5,514.5Z M777,490.5 778.5,493 778.5,497 782,498 780,501.5 777.5,504.5 774.5,506.5 773,511.5 769.5,513 766,513 765,511 767.5,506 771,505 772.5,501 774.5,497.5 776,496 776.2,492Z M792,491.5 794.5,490.5 796,492 795.5,496 793,496.5 791.2,494.5Z M782.5,489.5 784.5,491.5 786.5,492.5 786.5,496 784,495.5 783,492Z M809,476.5 814,475 820,474 822.5,471.5 825,470.5 825,472.5 822.5,476 820,479 816,481 813,481.5 810.5,479.5Z M820,483 823,480.5 826,478.5 828,479 827.5,482 825,484.5 822.5,488 820.5,486 819.5,484Z M828.5,473.5 831,475.5 832,478.5 830.5,480.5 828.5,479 828,475.5Z M849,460 853.5,461.5 855.5,464 853.5,466 850,466 847.5,464.5 846.5,463Z M740,521 742.5,520.5 743.5,522.5 742,526 740,528.5 M742,520.5 744,522.5 742.5,526.5 739.5,530 737,529.5 736,528 739,524 740.5,521.5Z M732,530.5 734,531.5 736.5,534.5 736,539 734,542.5 730.5,542.5 727.5,541 724.5,541 723.5,539 725.5,536.5 728.5,536.5 730,533.5Z M734,542.5 733,545 731,547 726.5,548.5 724,551 722,554 723.5,555.5 727,554 730,551.5 734,550 735.5,551 739,549 742,548 744,544.5 747.5,541.5 748,539 747,535.5 745.5,534 743.5,535 744,538.5 741.5,541 739.5,544 740,541 741,538.5 741,534.5 740,531.5 739.5,530 M720,553 721,554 718.5,556.5 715,558.5 711.5,560 709.5,563 706.5,566 707,562 708.5,559.5 711.5,557 714,553.5 716.5,552.5Z M782,517 783.5,511 784.5,510 M787.5,519.5 790,516 792,513 795,514 793.5,510 M652.5,684 654.5,685.5 653.5,687.5 651,687 650.5,685.5Z M696,626 697.5,627.5 696,629 694.5,627.5Z M839,642.5 842.5,643.3 840.5,645.5 838,645.5 837.5,644Z M785.5,756.5 789,758.5 789.5,760.5 787,762 785.5,764.5 783,763 781.5,761.5 783,760 784.5,759Z M791,764 793.5,765 M803.5,762.5 807.5,761.5 M807.5,755 809,759 812,761.5 814,762 M810,756.5 811.5,760 M754,823 753,827 751,832 749.5,838 748,844 747,845.5 746.2,842 747,836 749,831 751.5,825.5Z M778.5,809.8 776,812 773.5,815.5 773.5,820 774.5,821.5 771.5,825 769,827.5 767.5,830 766,827 765.5,823 765.5,818.5 768,815 770.5,812.2 775,811Z M728.5,864 732.5,867 732,869.5 729,869 727,867Z M824,796.5 820,796 814,796.5 811.5,798.5 807.5,798.5 808.5,801 807.5,803.5 810.5,805.5 811.5,808.5 809.5,810.5 808.5,809.5 810.5,807 812,805 816.5,804 820,801.5 823.5,799Z M822,795 824,796 823,798 821.5,796.5Z M816,785.5 819.5,787.5 820.5,790.5 817.5,792.5 815,794.5 813,790.5 809.5,789.5 814,788.5Z M660,873 659,870.5 660.5,866 660,861.5 654.5,858 654.8,851 653.5,845 654.5,837.5 658,838.5 660.5,840 662,837 664,834.5 666,835 666.5,829.5 663.5,830 661,835 657,836 655.5,834 657,830 659.5,827.5 664,826.5 669,826 672,822 675,817.8 679,817 681.5,815 680.5,817 681,824 679,828 678,832 678.2,838 681,839.5 684.5,839.5 685.5,842 684,845 681.5,846.5 679.5,844.5 678,848 677,852 674.5,853.5 673.5,856 670.5,860 671.2,865 669,868.5 671.5,869.5 672.5,873 M674,859 679,858 682.5,858.5 683.5,863 684,867 681.5,868.5 677,867.5 674.5,865 673.5,861Z M703.5,848 700,847.5 696,850 696.5,854.5 694.5,856 693.5,851.5 691.5,851 689.5,854.5 686,855.5 688,860 688.5,865 693,865.5 694.5,870 695,874 692,876.5 688,875 686.5,872 688,870.5 692,872 696,874 700,871 703.5,870 701,868 698.5,870.5 698,867 700,865 702,863 699.5,861 701,858.5 703.5,857Z M684.5,823.5 688.5,823 686,825Z M681,850.5 682.5,852.5 681.5,854.5 680.5,852.5Z M677.5,870.5 680,872 M685.5,866.5 685,870 683,874 M655.8,872.5 658,874.4 659.9,872.5 661.8,875.5 663.6,878.9 662.1,880.8 659.9,882.2 661,883.8 662.9,884.5 662.9,889.8 M656.9,868.4 655.8,872.5 M672.2,872.5 674.5,874.8 674.1,878.9 673.4,880 676,879.6 679.8,880.8 682.8,882.2 685.8,881.1 686.9,878.9 688.8,879.6 689.1,881.1 686.9,881.5 686.5,884.5 685,886.8 684.2,889.4 M691.8,889.4 694,886.8 697.8,885.6 700.8,883 703.8,880.4 707.5,880.8 709.8,882.2 711.2,884.5 713.9,886 716.5,887.5 719.5,888.6 721.4,889.8 M710.5,882.2 710.1,878.5 712,875.9 713.9,876.6 715,878.9 716.5,880 716.1,883 713.9,882.2 714.6,884.9 718,887.5" stroke="#000" stroke-width="1.05" fill="none" stroke-linejoin="round" stroke-linecap="round"/>
<path d="M485.4,866.1 483.6,867.9 480.9,869.1 480,872.4 478.2,874.2 475.2,875.7 476.7,877.2 474,877.8 472.2,879 472.8,880.8 475.2,883.8 477.6,885.6 480,886.5 482.1,885.9 483.3,883.2 484.8,881.4 486.3,882.3 487.8,885 489.6,887.4 492,888.2 495,888 M659.9,871.8 664,872.1 667.8,873.2 672.2,872.5 M688,784.5 690.5,785 691.5,789.5 693,790 695,785 695.5,780 694,786 695,781 693.5,775 695,773 697,768.5 701.5,765.5 703,762 704,755.5 702.5,751 700.5,745.5 701,742.5 705.5,741.5 707.5,735.5 704.5,731 699,726.5 700,720 700.8,713 699,706 698.5,700 699.5,695.5 697.5,690 700,679 703.5,673 706,670 710.5,668.5 715,669.5 719,670.5 721.5,665 720.5,658 715.5,655.5 718,651 721.5,645 725,636.5 725.5,629 726.5,623 726.5,618.5 725.5,614.5 732,612.5 736.2,609.5 735.5,604.5 738.5,600 741,595 746.5,588 747,584.5 745,580 743.5,576.5 747,574.5 749,570 750.5,564 756.5,557.5 763.5,561.5 766.5,555.5 766,548.5 766.5,544.5 768.5,543.5 773,545.5 778,547 786.5,550.5 786.5,550 789,546.5 786.5,544.5 789.5,541 790.8,536 790,531.5 787.5,530 791.5,529.5 796,528 M796,528 796.5,532 799,535 804,540.5 810,545.5 815,547.5 819,550 821.5,554 824,558 827.5,562.5 826,566 826,571 826.5,575 827.5,575 824.8,576.5 828.5,577.5 829,580.5 827,583.5 827.5,588 830,592 831.5,595 830,599 830,602 828,605 827.8,611.5 830.5,613.5 832,617.5 832.8,623 M796,528 799,528 798.5,523.5 801,521.5 804.5,521.8 807.5,526.5 810,531 812.5,535.5 813.5,539 818,539.8 822.5,541.5 827.5,539.5 830,536.2 834,538.5 838,540.8 841.5,543 843.5,541 845,536.5 847.5,534 850.5,530.5 851,524 852,518 853,515 852,517 853.5,510 857,505.5 860,501 863,500.5 866.5,501.5 869.5,499 872,496.8 875,497 877,500 880,503.5 884,506 888.5,508.5 889.5,512 891,515.5 889,519 886,523 885.5,526.5 887,529 M887,529 889.5,527 890.5,523 892,520.5 895,519.5 899,517.5 M887,529 884,531.5 880.5,533.5 884.5,535 884.5,538 884.5,538 882.5,542 881,546 882,551 883.5,555 891,559 894,564.5 897.5,570 897.5,574.5 894,580 890.5,586 887.5,592.5 889.5,597 892,602.5 893.5,608.5 896,613.5 898,618 899.5,622 899,626.5 896,627 895,628.5 896.5,630 895,636 893.5,638 896.5,639.5 896,642 893.5,644.5 894,647.5 895.5,650 899,651 899.8,653 899,656 897.5,657 899.5,661 903,663.5 904.5,667 904,671 901.5,675 899,677.5 902,682 907,686 911,690 913.5,694.5 915.5,697 913,693 915.5,697 914,702 912,707.5 908.5,712 904,717 900,723 897,728 894,732 890,737 885,741.5 880,746 874,754 M877,778 877.5,779.5 874.5,782 873,786.5 872,789 872.5,788 873.5,793 874.5,799 872.5,801.5 870.5,805 872,809 873.5,812 870,816 869,819 M872.5,788 869,787.5 865,789.5 864.5,792 866.5,796.5 868.5,801 870.5,805 M870.5,805 875,805.5 877.5,808 878,811 876,812.5 873.5,812 M872,788.5 869,787.5 865,790 M834.5,812.5 839,810 844,808 847,809 853,812.5 856,816.5 859,819 863.5,817.5 869,819 M869,819 872,821.5 874.5,824.5 873.5,828 872.5,832 874.5,834.5 876.5,839 878,843 878,847.5 M798.5,848.5 804,844 810,841.5 815,842.5 821,843 827,843.5 833,845 837.5,844 840.5,842 842.5,845.5 849,847.5 854,851.5 858,856 860,857 M860,857 864,854.5 870,854.5 873,850.5 876,848 878,847.5 M860,857 859,863 862,864.5 860,867 857,868 854,870.5 851.5,872 850.5,877 851,875 849,883 845,885 841,887 840,889.6 M878,847.5 882,849 884.5,851 888.5,849.5 891,851 892,856 896,854 900,853.5 904,855.5 907,859 908.5,862 907.5,865 910,868 907,868 909,873 911,878 914,883 919,889.6 M800.5,864.5 805,867 809.5,868.5 815,868.5 818.5,872 817,876 817,882 822,884 825.6,889.6 M781,880.4 796,881 817,882" stroke="#000" stroke-width="1.35" fill="none" stroke-linejoin="round" stroke-linecap="round"/>
<path d="M340.5,321.7V889.8M452.5,321.7V889.8M563.5,321.7V889.8M675.5,321.7V889.8M787.5,321.7V889.8M898.5,321.7V889.8M270.4,430.5H960.4M270.4,530.5H960.4M270.4,618.5H960.4M270.4,696.5H960.4M270.4,766.5H960.4M270.4,830.5H960.4" stroke="#b0b0b0" stroke-width="1" fill="none"/>
<!-- volcano -->
<g stroke="#000" fill="none" stroke-linecap="butt">
<path d="M371.6,633L367.9,644.2 M381.2,633L385.2,644.2" stroke-width="1.25"/>
<path d="M371,632.8H381.8" stroke-width="1.9"/>
<path d="M371.6,632.6L369.2,626.1 M376.4,632.6V625.9 M381.2,632.6L383.7,626.1" stroke-width="2"/>
</g>
<rect x="367.3" y="643.3" width="6.8" height="2.5" fill="#000"/><rect x="379.1" y="643.3" width="6.8" height="2.5" fill="#000"/>
</g>
<rect x="270.4" y="321.7" width="690.0" height="568.4000000000001" fill="none" stroke="#000" stroke-width="1.2"/>
<text x="340.5" y="310.3" class="t14 mid">20°W</text>
<text x="340.5" y="911.8" class="t14 mid">20°W</text>
<text x="452.5" y="310.3" class="t14 mid">10°W</text>
<text x="452.5" y="911.8" class="t14 mid">10°W</text>
<text x="563.5" y="310.3" class="t14 mid">0°</text>
<text x="563.5" y="911.8" class="t14 mid">0°</text>
<text x="675.5" y="310.3" class="t14 mid">10°E</text>
<text x="675.5" y="911.8" class="t14 mid">10°E</text>
<text x="787.5" y="310.3" class="t14 mid">20°E</text>
<text x="787.5" y="911.8" class="t14 mid">20°E</text>
<text x="898.5" y="310.3" class="t14 mid">30°E</text>
<text x="898.5" y="911.8" class="t14 mid">30°E</text>
<text x="262.5" y="434.7" class="t14 end" style="letter-spacing:-0.3px" dx="0.3">72°N</text>
<text x="967" y="434.7" class="t14" style="letter-spacing:-0.3px">72°N</text>
<text x="262.5" y="535.2" class="t14 end" style="letter-spacing:-0.3px" dx="0.3">69°N</text>
<text x="967" y="535.2" class="t14" style="letter-spacing:-0.3px">69°N</text>
<text x="262.5" y="622.8" class="t14 end" style="letter-spacing:-0.3px" dx="0.3">66°N</text>
<text x="967" y="622.8" class="t14" style="letter-spacing:-0.3px">66°N</text>
<text x="262.5" y="700.7" class="t14 end" style="letter-spacing:-0.3px" dx="0.3">63°N</text>
<text x="967" y="700.7" class="t14" style="letter-spacing:-0.3px">63°N</text>
<text x="262.5" y="770.9" class="t14 end" style="letter-spacing:-0.3px" dx="0.3">60°N</text>
<text x="967" y="770.9" class="t14" style="letter-spacing:-0.3px">60°N</text>
<text x="262.5" y="835.1" class="t14 end" style="letter-spacing:-0.3px" dx="0.3">57°N</text>
<text x="967" y="835.1" class="t14" style="letter-spacing:-0.3px">57°N</text>
<text x="262.5" y="894.2" class="t14 end" style="letter-spacing:-0.3px" dx="0.3">54°N</text>
<text x="967" y="894.2" class="t14" style="letter-spacing:-0.3px">54°N</text>
<text x="290.4" y="283.2" class="t10 mid">0.1</text>
<text x="355.4" y="283.2" class="t10 mid">10</text>
<text x="420.4" y="283.2" class="t10 mid">20</text>
<text x="485.4" y="283.2" class="t10 mid">30</text>
<text x="550.4" y="283.2" class="t10 mid">40</text>
<text x="615.4" y="283.2" class="t10 mid">50</text>
<text x="680.4" y="283.2" class="t10 mid">60</text>
<text x="745.4" y="283.2" class="t10 mid">70</text>
<text x="810.4" y="283.2" class="t10 mid">80</text>
<text x="875.4" y="283.2" class="t10 mid">90</text>
<text x="940.4" y="283.2" class="t10 mid">100</text>
<text x="973" y="283.2" class="t10">(%)</text>
<text x="60.5" y="974.5" class="t10">© Met Office Crown Copyright</text>
</svg>
</body></html>
